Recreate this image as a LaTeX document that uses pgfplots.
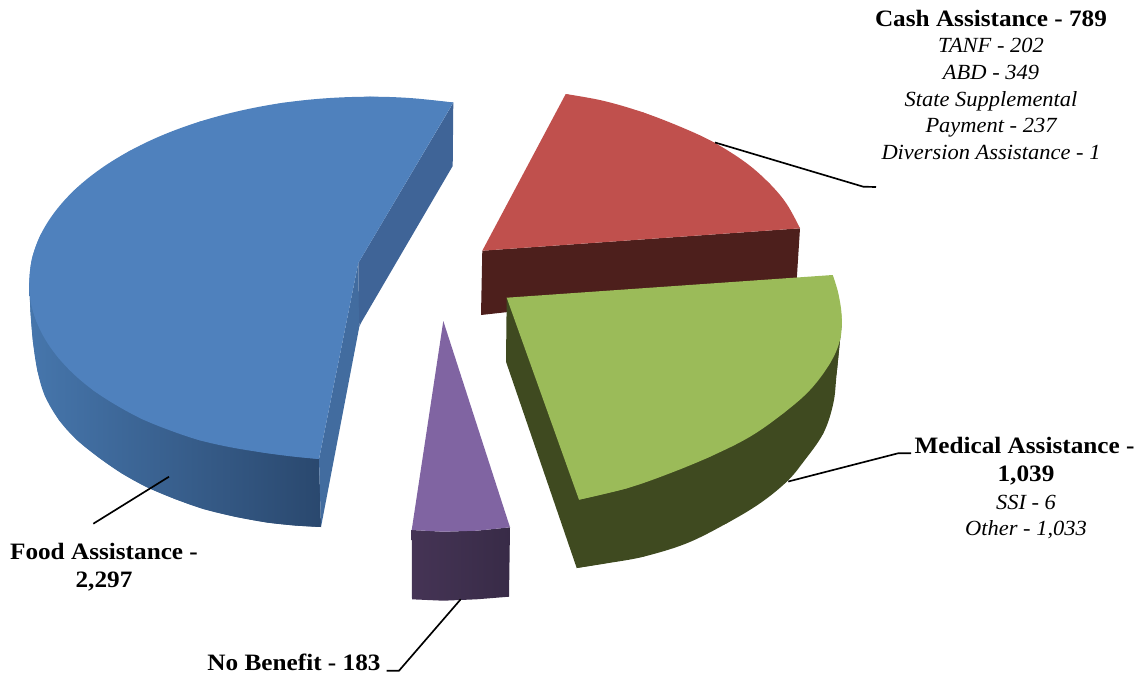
\documentclass[border=0pt]{standalone}
\usepackage{pgfplots}
\pgfplotsset{compat=1.18}
\usepackage{fontspec}
\setmainfont[FakeStretch=1.04]{Liberation Serif}
\newfontfamily\headfont[FakeStretch=1.075]{Liberation Serif}
\definecolor{bluetop}{HTML}{4F81BD}
\definecolor{bluecutA}{HTML}{3F6497}
\definecolor{bluecutB}{HTML}{426C9F}
\definecolor{bluewallL}{HTML}{4676AC}
\definecolor{bluewallM}{HTML}{3B5F8E}
\definecolor{bluewallR}{HTML}{2A486E}
\definecolor{redtop}{HTML}{C0504D}
\definecolor{redwall}{HTML}{4D1F1C}
\definecolor{greentop}{HTML}{9BBB59}
\definecolor{greenwall}{HTML}{3F4A20}
\definecolor{purpletop}{HTML}{8064A2}
\definecolor{purplewallL}{HTML}{453455}
\definecolor{purplewallR}{HTML}{382B47}
\tikzset{
  main/.style={font=\headfont\fontsize{17.6}{20}\selectfont\bfseries, anchor=base, inner sep=0pt, text=black},
  sub/.style={font=\fontsize{16.2}{20}\selectfont\itshape, anchor=base, inner sep=0pt, text=black},
  leader/.style={black, line width=1.25pt},
  rim/.style={smooth, tension=0.6},
  bluewall/.style={draw=none, shade, shading=axis, left color=bluewallL, middle color=bluewallM, right color=bluewallR, shading angle=90},
  purplewall/.style={draw=none, shade, shading=axis, left color=purplewallL, right color=purplewallR, shading angle=90}
}
% Outer rims of the slices
\pgfplotstableread{
x y
29.3 283
30.5 312
33 342
37.5 371
45 396
59 420
77 440
99.4 458
122 473.5
146.5 487
175 499
203.5 509
235 516.7
267 522.5
295 525.5
321 527
}\bluebottom
\pgfplotstableread{
x y
453.3 102.5
411 98.1
370 96.7
325.5 98.3
281.7 103
239.5 110.9
199.5 121.7
162.4 135.2
128.9 151.3
99.5 169.6
74.7 189.8
55 211.7
40.6 234.8
32 258.7
29.3 283
30.9 302.4
36.5 321.6
}\bluerimupper
\pgfplotstableread{
x y
40.6 234.8
32 258.7
29.3 283
30.9 302.4
36.5 321.6
45.7 340.2
58.5 358
74.7 375
94.1 390.9
116.6 405.4
141.8 418.9
169.5 430.2
199.5 440.2
231.3 447.4
264.6 452.8
293.3 456.6
319 459
}\bluerimlower
\pgfplotstableread{
x y
565.7 94
603.3 100.8
643.3 112.5
683.3 128
715 143
746.7 163.3
770 184
786.7 204
800 228.3
}\redrim
\pgfplotstableread{
x y
841.7 323
836.7 373
833.3 403.3
823.3 433.3
803.3 462
786.7 481.7
760 503.3
726.7 523.3
686.7 543.3
643.3 556.7
606.7 563.3
576.7 568
}\greenbottom
\pgfplotstableread{
x y
832.7 275
838.3 293.3
841.7 316.7
840 340
830 363.3
810 390
783.3 413.3
750 436.7
710 456.7
666.7 474.5
626.7 488.3
579 499.7
}\greenrim
\begin{document}
\begin{tikzpicture}
\begin{axis}[
  name=pie, scale only axis, width=856.5pt, height=509.25pt,
  xmin=0, xmax=1142, ymin=0, ymax=679, y dir=reverse,
  hide axis, clip=false
]
% Food Assistance: outer wall, cut faces, top
\addplot[bluewall] coordinates {
 (29.3,283) (30.5,312) (33,342) (37.5,371) (45,396) (59,420) (77,440) (99.4,458) (122,473.5) (146.5,487)
 (175,499) (203.5,509) (235,516.7) (267,522.5) (295,525.5) (321,527) (319,459)} -- cycle;
\addplot[bluewall, rim] table {\bluebottom};
\addplot[draw=none, fill=bluecutB] coordinates {(319,459) (358.3,263) (359.3,326.7) (321,527)} -- cycle;
\addplot[draw=none, fill=bluecutA] coordinates {(453.3,102.7) (452.7,166) (361.7,321.7) (359.3,326.7) (358.3,263)} -- cycle;
\addplot[draw=none, fill=bluetop] coordinates {
 (453.3,102.5) (370,96.7) (281.7,103) (199.5,121.7) (128.9,151.3) (74.7,189.8) (40.6,234.8) (29.3,283)
 (36.5,321.6) (58.5,358) (94.1,390.9) (141.8,418.9) (199.5,440.2) (264.6,452.8) (319,459) (358.3,263)} -- cycle;
\addplot[draw=none, fill=bluetop, rim] table {\bluerimupper};
\addplot[draw=none, fill=bluetop, rim] table {\bluerimlower};
% Cash Assistance
\addplot[draw=none, fill=redwall] coordinates {(482.3,250.7) (800,228.3) (796.7,280) (481,315)} -- cycle;
\addplot[draw=none, fill=redtop] coordinates {
 (565.7,94) (643.3,112.5) (715,143) (770,184) (800,228.3) (482.3,250.7)} -- cycle;
\addplot[draw=none, fill=redtop, rim] table {\redrim};
% Medical Assistance
\addplot[draw=none, fill=greenwall] coordinates {
 (506.7,297.7) (506,361.7) (576.7,568) (643.3,556.7) (726.7,523.3) (786.7,481.7) (823.3,433.3)
 (836.7,373) (841.7,323) (579,420)} -- cycle;
\addplot[draw=none, fill=greenwall, rim] table {\greenbottom};
\addplot[draw=none, fill=greentop] coordinates {
 (506.7,297.7) (832.7,275) (841.7,316.7) (830,363.3) (783.3,413.3) (710,456.7) (626.7,488.3) (579,499.7)} -- cycle;
\addplot[draw=none, fill=greentop, rim] table {\greenrim};
% No Benefit
\addplot[purplewall] coordinates {
 (411.7,530) (412,599.3) (443.3,600.7) (476.7,599.3) (509,596.7) (510,527.3) (476.7,530.7) (443.3,531.7)} -- cycle;
\addplot[draw=none, fill=purpletop] coordinates {(443.3,321) (510,527.3) (476.7,530.7) (443.3,531.7) (411.7,530)} -- cycle;
% Leader lines
\addplot[leader] coordinates {(169,476.7) (93.3,523.7)};
\addplot[leader] coordinates {(715,142.5) (863.3,186.7) (876,187)};
\addplot[leader] coordinates {(788.3,481.5) (898,453.3) (911,453.3)};
\addplot[leader] coordinates {(460.7,599.3) (399,670.7) (386.7,670.7)};
% Labels
\node[main] at (axis cs:991,26) {Cash Assistance - 789};
\node[sub] at (axis cs:991,52.7) {TANF - 202};
\node[sub] at (axis cs:991,79.3) {ABD - 349};
\node[sub] at (axis cs:991,106) {State Supplemental};
\node[sub] at (axis cs:991,132.7) {Payment - 237};
\node[sub] at (axis cs:991,159.3) {Diversion Assistance - 1};
\node[main] at (axis cs:1024.5,453.3) {Medical Assistance -};
\node[main] at (axis cs:1026,481) {1,039};
\node[sub] at (axis cs:1026,509) {SSI - 6};
\node[sub] at (axis cs:1026,535.5) {Other - 1,033};
\node[main] at (axis cs:104,559.3) {Food Assistance -};
\node[main] at (axis cs:104,587.3) {2,297};
\node[main] at (axis cs:294,670.7) {No Benefit - 183};
\end{axis}
\path[use as bounding box] (pie.south west) rectangle (pie.north east);
\end{tikzpicture}
\end{document}
